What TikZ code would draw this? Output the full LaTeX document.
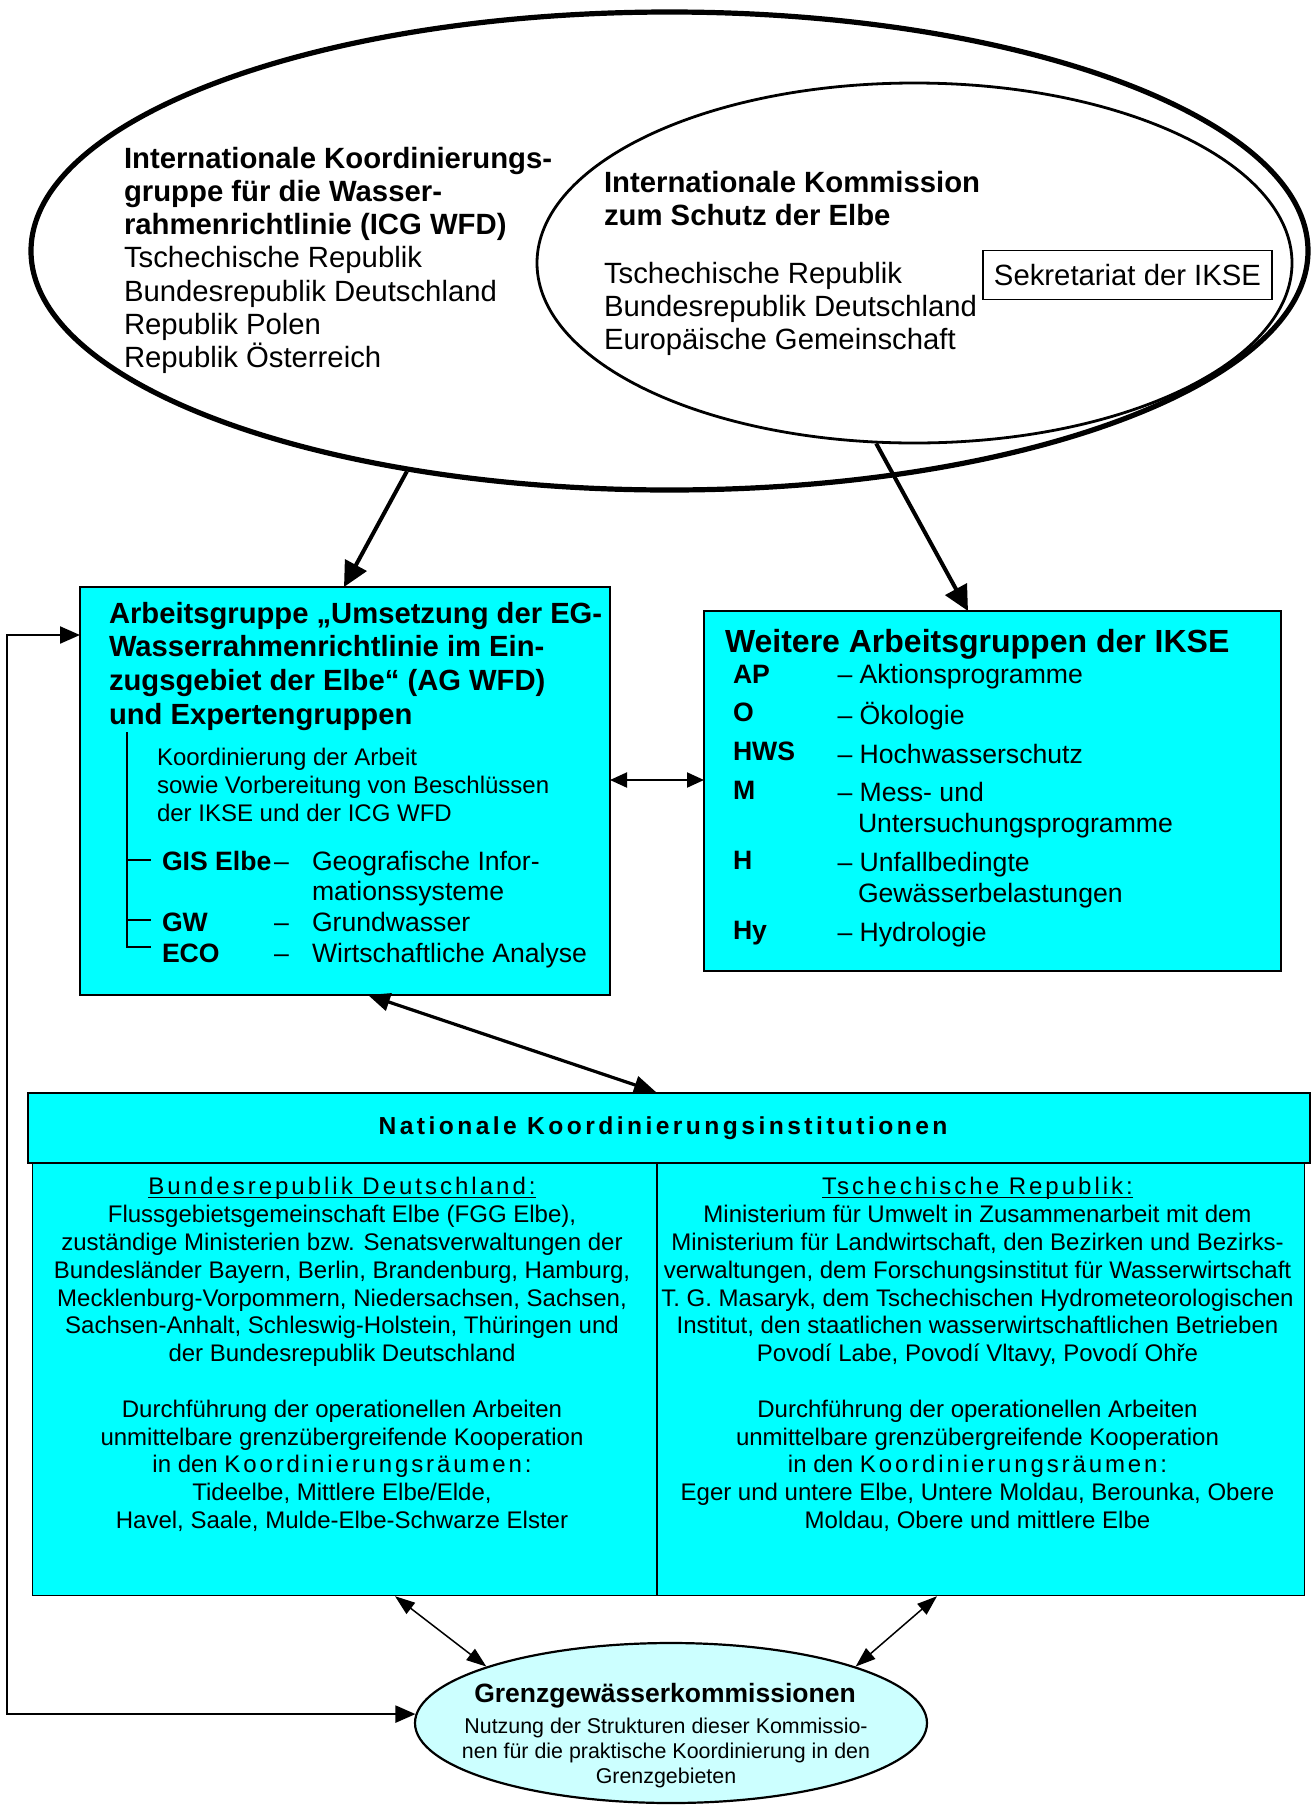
\documentclass[tikz,border=0pt]{standalone}
\usepackage{fontspec}
\setmainfont{Liberation Sans}
\usetikzlibrary{arrows.meta,shapes.geometric}
\newcommand\fs[2]{\fontsize{#1}{#2}\selectfont}
\newcommand\lsp[2]{{\addfontfeature{LetterSpace=#1}#2}}
\newcommand\myul[1]{\setbox0\hbox{#1}\rlap{\rule[-1.6pt]{\wd0}{0.7pt}}\box0}
\definecolor{aqua}{HTML}{00FFFF}
\definecolor{lightaqua}{HTML}{CCFFFF}
\begin{document}
\begin{tikzpicture}[x=0.5pt,y=-0.5pt,
  txt/.style={inner sep=0pt, outer sep=0pt},
  box/.style={draw=black, fill=aqua, line width=0.9pt, inner sep=0pt, outer sep=0pt},
  bigarrow/.style={line width=2pt, -{Triangle[length=12.5pt,width=12pt]}},
  midarrow/.style={line width=1.6pt, {Triangle[length=11pt,width=9pt]}-{Triangle[length=11pt,width=9pt]}},
  harrow/.style={line width=1pt, {Triangle[length=8.5pt,width=7.5pt]}-{Triangle[length=8.5pt,width=7.5pt]}},
  larrow/.style={line width=0.75pt, {Triangle[length=10pt,width=7pt]}-{Triangle[length=10pt,width=7pt]}},
  fbarrow/.style={line width=1.1pt, {Triangle[length=10pt,width=8.5pt]}-{Triangle[length=10pt,width=8.5pt]}},
]
\useasboundingbox (0,0) rectangle (1316,1805);

% ---- top ellipses
\node[ellipse, draw, line width=2.6pt, minimum width=638.5pt, minimum height=239pt, inner sep=0pt] (icg) at (669.5,251) {};
\node[ellipse, draw, line width=1.4pt, minimum width=377.5pt, minimum height=180pt, inner sep=0pt] (iks) at (914.5,263) {};

\node[txt, anchor=north west, align=left, font=\fs{14.65}{16.65}] (icgtxt) at (124,144.7)
 {\strut\textbf{Internationale Koordinierungs-}\\\textbf{gruppe für die Wasser-}\\\textbf{rahmenrichtlinie (ICG WFD)}\\Tschechische Republik\\Bundesrepublik Deutschland\\Republik Polen\\Republik Österreich};

\node[txt, anchor=north west, align=left, font=\bfseries\fs{14.65}{16.65}] (ikstitle) at (604,168.7)
 {\strut Internationale Kommission\\zum Schutz der Elbe};
\node[txt, anchor=north west, align=left, font=\fs{14.65}{16.5}] (iksmem) at (604,259.9)
 {\strut Tschechische Republik\\Bundesrepublik Deutschland\\Europäische Gemeinschaft};

\node[draw, line width=0.7pt, minimum width=144.5pt, minimum height=24.5pt, inner sep=0pt, font=\fs{14.65}{16.65}] (sek) at (1127.5,275) {Sekretariat der IKSE};

% ---- AG WFD box
\node[box, anchor=north west, minimum width=265pt, minimum height=204pt] (wfd) at (80,587) {};
\node[txt, anchor=north west, align=left, font=\bfseries\fs{14.6}{16.85}] (wfdtitle) at (109,599.4)
 {\strut Arbeitsgruppe „Umsetzung der EG-\\Wasserrahmenrichtlinie im Ein-\\zugsgebiet der Elbe“ (AG WFD)\\und Expertengruppen};
\node[txt, anchor=north west, align=left, font=\fs{12}{14}] (wfdsub) at (157,745.4)
 {\strut Koordinierung der Arbeit\\sowie Vorbereitung von Beschlüssen\\der IKSE und der ICG WFD};
\draw[line width=0.9pt] (127,732) -- (127,947) -- (151,947);
\draw[line width=0.9pt] (127,860) -- (151,860);
\draw[line width=0.9pt] (127,920) -- (151,920);
\node[txt, anchor=north west, align=left, font=\bfseries\fs{13.3}{15.35}] (gislab) at (162,848.5)
 {\strut GIS Elbe\\\strut\\GW\\ECO};
\node[txt, anchor=north west, align=left, font=\fs{13.3}{15.35}] (gisdash) at (274,848.5)
 {\strut –\\\strut\\–\\–};
\node[txt, anchor=north west, align=left, font=\fs{13.3}{15.35}] (gisdesc) at (312,848.5)
 {\strut Geografische Infor-\\mationssysteme\\Grundwasser\\Wirtschaftliche Analyse};

% ---- Weitere Arbeitsgruppen box
\node[box, anchor=north west, minimum width=288.5pt, minimum height=180pt] (wag) at (704,611) {};
\node[txt, anchor=base west, font=\bfseries\fs{16}{18.4}] (wagtitle) at (725,652) {Weitere Arbeitsgruppen der IKSE};
\node[txt, anchor=north west, align=left, font=\bfseries\fs{13.3}{15.5}] (waglab) at (733,661.3)
 {\strut AP\\[3.9pt]O\\[3.9pt]HWS\\[3.9pt]M\\\strut\\[3.9pt]H\\\strut\\[3.9pt]Hy};
\node[txt, anchor=north west, align=left, font=\fs{13.3}{15.5}] (wagdesc) at (837.5,661.3)
 {\strut– Aktionsprogramme\\[3.9pt]– Ökologie\\[3.9pt]– Hochwasserschutz\\[3.9pt]– Mess- und\\\hspace*{10.25pt}Untersuchungsprogramme\\[3.9pt]– Unfallbedingte\\\hspace*{10.25pt}Gewässerbelastungen\\[3.9pt]– Hydrologie};

% ---- National institutions
\node[draw, fill=aqua, line width=0.6pt, anchor=north west, minimum width=636pt, minimum height=216.5pt, inner sep=0pt] (natbody) at (32,1162) {};
\draw[line width=0.6pt] (657,1162) -- (657,1595);
\node[draw, fill=aqua, line width=1pt, anchor=north west, minimum width=641pt, minimum height=35pt, inner sep=0pt] (nat) at (27,1092) {};
\node[txt, anchor=base, font=\bfseries\fs{12.3}{14}] (nattitle) at (663,1134) {\lsp{14}{Nationale Koordinierungsinstitutionen}};

\node[txt, anchor=north, align=center, font=\fs{12}{13.9}] (natde) at (342,1175.5)
 {\strut\myul{\lsp{12.5}{Bundesrepublik Deutschland:}}\\
  Flussgebietsgemeinschaft Elbe (FGG Elbe),\\
  zuständige Ministerien bzw. Senatsverwaltungen der\\
  Bundesländer Bayern, Berlin, Brandenburg, Hamburg,\\
  Mecklenburg-Vorpommern, Niedersachsen, Sachsen,\\
  Sachsen-Anhalt, Schleswig-Holstein, Thüringen und\\
  der Bundesrepublik Deutschland\\
  \strut\\
  Durchführung der operationellen Arbeiten\\
  unmittelbare grenzübergreifende Kooperation\\
  in den \lsp{12}{Koordinierungsräumen:}\\
  Tideelbe, Mittlere Elbe/Elde,\\
  Havel, Saale, Mulde-Elbe-Schwarze Elster};

\node[txt, anchor=north, align=center, font=\fs{12}{13.9}] (natcz) at (977.5,1175.5)
 {\strut\myul{\lsp{12.5}{Tschechische Republik:}}\\
  Ministerium für Umwelt in Zusammenarbeit mit dem\\
  Ministerium für Landwirtschaft, den Bezirken und Bezirks-\\
  verwaltungen, dem Forschungsinstitut für Wasserwirtschaft\\
  T. G. Masaryk, dem Tschechischen Hydrometeorologischen\\
  Institut, den staatlichen wasserwirtschaftlichen Betrieben\\
  Povodí Labe, Povodí Vltavy, Povodí Ohře\\
  \strut\\
  Durchführung der operationellen Arbeiten\\
  unmittelbare grenzübergreifende Kooperation\\
  in den \lsp{12}{Koordinierungsräumen:}\\
  Eger und untere Elbe, Untere Moldau, Berounka, Obere\\
  Moldau, Obere und mittlere Elbe};

% ---- Grenzgewässerkommissionen
\node[ellipse, draw, fill=lightaqua, line width=1.1pt, minimum width=256pt, minimum height=80pt, inner sep=0pt] (gk) at (671,1723) {};
\node[txt, anchor=base, font=\bfseries\fs{13.25}{15}] (gktitle) at (665,1702) {Grenzgewässerkommissionen};
\node[txt, anchor=north, align=center, font=\fs{10.7}{12.4}] (gktxt) at (666,1716.1)
 {\strut Nutzung der Strukturen dieser Kommissio-\\nen für die praktische Koordinierung in den\\Grenzgebieten};

% ---- connectors
\draw[bigarrow] (icg.220) -- ([xshift=132pt]wfd.north west);
\draw[bigarrow] (iks.258.2) -- ([xshift=132pt]wag.north west);
\draw[harrow] ([yshift=-96.5pt]wfd.north east) -- ([yshift=-84.5pt]wag.north west);
\draw[midarrow] ([xshift=144pt]wfd.south west) -- ([xshift=314.5pt]nat.north west);
\draw[larrow] ([xshift=181.5pt]natbody.south west) -- (gk.163.1);
\draw[larrow] ([xshift=452.5pt]natbody.south west) -- (gk.17.1);
\draw[fbarrow] ([yshift=-24pt]wfd.north west) -- ++(-73,0) |- (gk.178);
\end{tikzpicture}
\end{document}
